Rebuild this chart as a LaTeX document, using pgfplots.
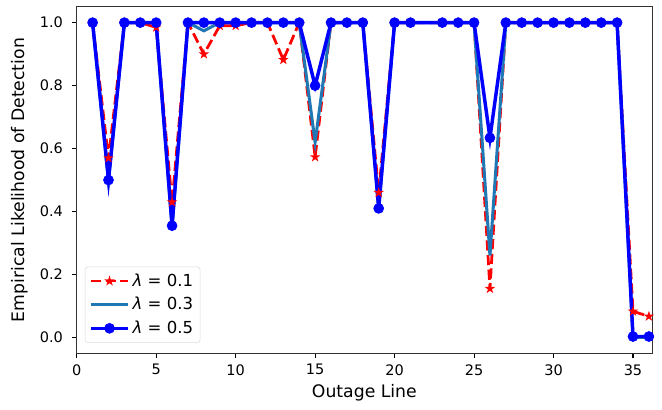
\documentclass[border=0pt]{standalone}
\usepackage{fontspec}
\setmainfont{DejaVu Sans}
\usepackage{pgfplots}
\pgfplotsset{compat=1.18}
\definecolor{mplblue}{HTML}{1F77B4}

% filled five-pointed star, as matplotlib draws it
\pgfdeclareplotmark{fstar}{%
  \pgfpathmoveto{\pgfpointpolar{90}{\pgfplotmarksize}}%
  \pgfpathlineto{\pgfpointpolar{126}{0.382\pgfplotmarksize}}%
  \pgfpathlineto{\pgfpointpolar{162}{\pgfplotmarksize}}%
  \pgfpathlineto{\pgfpointpolar{198}{0.382\pgfplotmarksize}}%
  \pgfpathlineto{\pgfpointpolar{234}{\pgfplotmarksize}}%
  \pgfpathlineto{\pgfpointpolar{270}{0.382\pgfplotmarksize}}%
  \pgfpathlineto{\pgfpointpolar{306}{\pgfplotmarksize}}%
  \pgfpathlineto{\pgfpointpolar{342}{0.382\pgfplotmarksize}}%
  \pgfpathlineto{\pgfpointpolar{18}{\pgfplotmarksize}}%
  \pgfpathlineto{\pgfpointpolar{54}{0.382\pgfplotmarksize}}%
  \pgfpathclose\pgfusepathqfill}

\begin{document}
\begin{tikzpicture}
\begin{axis}[
    width=417pt, height=251pt, scale only axis,
    xmin=0, xmax=36.2, ymin=-0.05, ymax=1.05,
    xtick={0,5,...,35}, ytick={0,0.2,...,1.0},
    /pgf/number format/assume math mode=true,
    tick label style={font=\fontsize{10.5}{12}\selectfont},
    yticklabel style={xshift=-3pt, /pgf/number format/.cd, fixed, fixed zerofill, precision=1},
    xticklabel style={yshift=-1pt},
    label style={font=\fontsize{12.5}{14}\selectfont},
    xlabel={Outage Line}, ylabel={Empirical Likelihood of Detection},
    ylabel style={yshift=2pt},
    tick align=outside, tick pos=left, major tick length=3.5pt,
    axis line style={black!80, line width=0.8pt},
    every tick/.style={black, line width=0.8pt},
    legend style={at={(0.014,0.03)}, anchor=south west, font=\fontsize{12}{14}\selectfont,
      draw=black!15, rounded corners=2pt, row sep=2.5pt, inner sep=3pt},
    legend cell align=left,
    legend image code/.code={\draw[mark repeat=2, mark phase=2, #1]
      plot coordinates {(0pt,0pt) (13.5pt,0pt) (27pt,0pt)};},
  ]
  \addplot[red, line width=2pt, dash pattern=on 7.4pt off 3.2pt,
    mark=fstar, mark size=4pt, mark options={solid, fill=red}] coordinates {
    (1,1) (2,0.57) (3,1) (4,1) (5,0.985) (6,0.43) (7,1) (8,0.90) (9,0.99) (10,0.99)
    (11,1) (12,1) (13,0.882) (14,1) (15,0.573) (16,1) (17,1) (18,1) (19,0.46) (20,1)
    (21,1) (23,1) (24,1) (25,1) (26,0.155) (27,1) (28,1) (29,1) (30,1) (31,1)
    (32,1) (33,1) (34,1) (35,0.083) (36,0.067)};
  \addlegendentry{\textit{λ} = 0.1}
  \addplot[mplblue, line width=2.2pt, no markers] coordinates {
    (1,1) (2,0.5) (3,1) (4,1) (5,1) (6,0.35) (7,1) (8,0.974) (9,1) (10,1)
    (11,1) (12,1) (13,1) (14,1) (15,0.62) (16,1) (17,1) (18,1) (19,0.41) (20,1)
    (21,1) (23,1) (24,1) (25,1) (26,0.26) (27,1) (28,1) (29,1) (30,1) (31,1)
    (32,1) (33,1) (34,1) (35,0.0) (36,0.0)};
  \addlegendentry{\textit{λ} = 0.3}
  \addplot[blue, line width=2.5pt, mark=*, mark size=3.6pt, mark options={fill=blue, draw=blue, line width=0.5pt}] coordinates {
    (1,1) (2,0.5) (3,1) (4,1) (5,1) (6,0.355) (7,1) (8,1) (9,1) (10,1)
    (11,1) (12,1) (13,1) (14,1) (15,0.80) (16,1) (17,1) (18,1) (19,0.41) (20,1)
    (21,1) (23,1) (24,1) (25,1) (26,0.634) (27,1) (28,1) (29,1) (30,1) (31,1)
    (32,1) (33,1) (34,1) (35,0.003) (36,0.003)};
  \addlegendentry{\textit{λ} = 0.5}
\end{axis}
\pgfresetboundingbox
\path ([xshift=-55.6pt,yshift=-40.6pt]current axis.south west)
      ([xshift=7.2pt,yshift=5pt]current axis.north east);
\end{tikzpicture}
\end{document}
